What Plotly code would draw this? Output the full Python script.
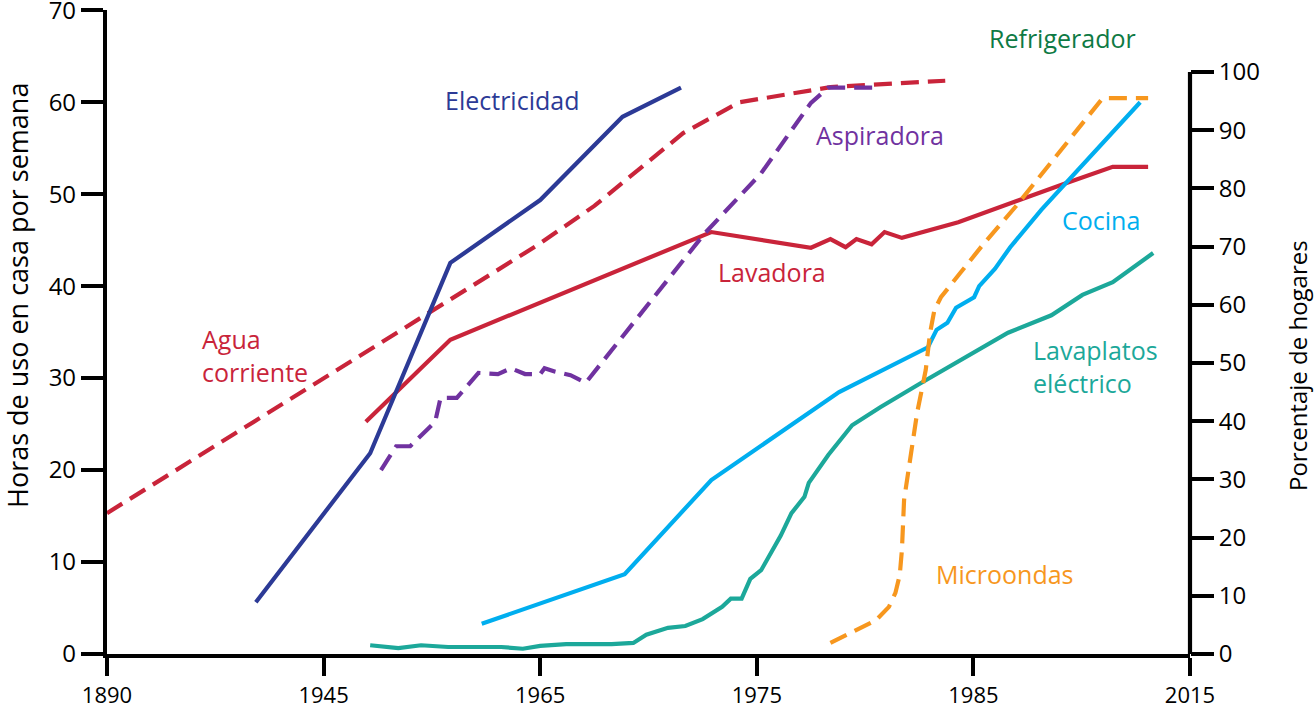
import numpy as np
import plotly.graph_objects as go

# ---------------- data ----------------
tick_years = [1890, 1945, 1965, 1975, 1985, 2015]
left_ticks = [0, 10, 20, 30, 40, 50, 60, 70]
right_ticks = [0, 10, 20, 30, 40, 50, 60, 70, 80, 90, 100]

elec_year = [1927.8, 1949.3, 1956.7, 1965.0, 1968.8, 1971.5]
elec_pct = [8.9, 34.5, 67.2, 78.0, 92.3, 97.3]

agua_year = [1890.0, 1964.8, 1967.5, 1971.6, 1974.2, 1978.4, 1983.7]
agua_pct = [24.2, 70.3, 77.0, 89.5, 94.8, 97.4, 98.5]

lavadora_year = [1948.9, 1956.7, 1972.9, 1977.5, 1978.4, 1979.1, 1979.6, 1980.3,
                 1980.9, 1981.7, 1984.3, 1991.2, 1997.8, 2004.3, 2009.2]
lavadora_pct = [39.9, 54.0, 72.5, 69.8, 71.3, 69.9, 71.3, 70.4,
                72.5, 71.5, 74.2, 78.0, 80.9, 83.7, 83.7]

aspir_year = [1950.3, 1951.7, 1953.0, 1955.3, 1955.8, 1957.3, 1959.3, 1961.1, 1962.3,
              1963.6, 1965.0, 1965.2, 1965.7, 1966.4, 1967.1, 1969.5, 1972.6, 1975.2,
              1977.5, 1978.3, 1980.7]
aspir_pct = [31.6, 35.7, 35.7, 39.9, 44.0, 44.0, 48.3, 48.1, 49.1,
             48.1, 48.1, 49.1, 48.5, 47.9, 46.6, 57.7, 72.3, 82.6,
             94.7, 97.3, 97.3]

cocina_year = [1959.6, 1968.9, 1972.9, 1978.8, 1982.9, 1983.3, 1983.8, 1984.2,
               1985.1, 1985.8, 1988.0, 1990.1, 1994.4, 2008.1]
cocina_pct = [5.2, 13.7, 29.9, 45.0, 52.7, 55.7, 56.9, 59.5,
              61.3, 63.2, 66.2, 69.9, 76.3, 94.8]

lavap_year = [1949.3, 1951.9, 1954.0, 1956.5, 1961.4, 1963.4, 1965.0, 1966.2, 1968.3,
              1969.3, 1969.9, 1970.9, 1971.7, 1972.5, 1973.4, 1973.8, 1974.3, 1974.7,
              1975.2, 1976.1, 1976.6, 1977.2, 1977.4, 1978.3, 1979.4, 1980.7, 1982.6,
              1984.6, 1989.8, 1995.8, 2000.1, 2004.3, 2009.9]
lavap_pct = [1.5, 1.0, 1.5, 1.2, 1.2, 0.9, 1.4, 1.7, 1.7,
             1.9, 3.3, 4.5, 4.8, 6.0, 8.1, 9.5, 9.5, 12.9,
             14.4, 20.3, 24.2, 27.0, 29.4, 34.2, 39.3, 42.4, 46.6,
             51.0, 55.2, 58.2, 61.7, 63.9, 68.9]

micro_year = [1978.4, 1980.5, 1981.1, 1981.4, 1981.6, 1981.7, 1981.8, 1982.1, 1982.4,
              1982.8, 1983.0, 1983.2, 1983.5, 1984.4, 1986.5, 1990.8, 1996.4, 2002.9, 2009.2]
micro_pct = [1.9, 5.8, 8.1, 10.5, 13.6, 17.9, 26.5, 34.2, 41.4,
             48.8, 55.2, 59.1, 61.3, 65.5, 70.6, 76.8, 85.4, 95.5, 95.5]

# ---------------- styling ----------------
W, H = 1315, 709
ML, MR, MT, MB = 107, 125, 10, 55
PW, PH = W - ML - MR, H - MT - MB
FONT = "Open Sans"

BLUE = "#2C3A96"
RED = "#C9243A"
PURPLE = "#7032A0"
ORANGE = "#F7971E"
CYAN = "#00AEEF"
TEAL = "#1CA89A"
GREEN = "#0E7A44"

DASH = "18px,9px"
LW = 4.2


def xpos(years):
    # the horizontal axis places its labelled years at equal spacing
    return np.interp(years, tick_years, np.arange(len(tick_years)))


def px(xp, yp):
    return (xp - ML) / PW, (H - MB - yp) / PH


fig = go.Figure()

series = [
    (agua_year, agua_pct, RED, DASH),
    (lavadora_year, lavadora_pct, RED, "solid"),
    (elec_year, elec_pct, BLUE, "solid"),
    (aspir_year, aspir_pct, PURPLE, DASH),
    (lavap_year, lavap_pct, TEAL, "solid"),
    (cocina_year, cocina_pct, CYAN, "solid"),
    (micro_year, micro_pct, ORANGE, DASH),
]
for yrs, vals, col, dash in series:
    fig.add_trace(go.Scatter(x=xpos(yrs), y=vals, mode="lines", yaxis="y2",
                             line=dict(color=col, width=LW, dash=dash),
                             hoverinfo="skip", showlegend=False))

# hidden trace so the left axis is active
fig.add_trace(go.Scatter(x=[0], y=[0], mode="markers", marker=dict(opacity=0),
                         showlegend=False, hoverinfo="skip"))

y2_top = 100 * PH / (H - MB - 72)

fig.update_layout(
    width=W, height=H, autosize=False,
    margin=dict(l=ML, r=MR, t=MT, b=MB, pad=0, autoexpand=False),
    paper_bgcolor="white", plot_bgcolor="white",
    font=dict(family=FONT, color="black", size=24),
    showlegend=False,
    xaxis=dict(range=[0, len(tick_years) - 1], tickmode="array",
               tickvals=list(range(len(tick_years))),
               ticktext=[str(t) for t in tick_years], automargin=False,
               ticklabeloverflow="allow",
               showgrid=False, zeroline=False, showline=True, linecolor="black",
               linewidth=LW, ticks="outside", ticklen=18, tickwidth=LW,
               tickcolor="black", tickfont=dict(size=22)),
    yaxis=dict(range=[0, 70.02], tickmode="array", tickvals=left_ticks,
               automargin=False, ticklabeloverflow="allow",
               showgrid=False, zeroline=False, showline=True, linecolor="black",
               linewidth=LW, ticks="outside", ticklen=22, tickwidth=LW,
               tickcolor="black", tickfont=dict(size=24)),
    yaxis2=dict(range=[0, y2_top], overlaying="y", side="right", anchor="x",
                tickmode="array", tickvals=right_ticks, automargin=False,
                ticklabeloverflow="allow",
                showgrid=False, zeroline=False, showline=False,
                ticks="outside", ticklen=23, tickwidth=LW, tickcolor="black",
                tickfont=dict(size=24)),
)

# right axis line only spans 0-100 %
fig.add_shape(type="line", xref="paper", yref="y2", x0=1, x1=1, y0=0, y1=100,
              line=dict(color="black", width=LW))

ann = []


def label(text, xp, yp, color, size=25, xanchor="center", align="center", angle=0):
    x, y = px(xp, yp)
    ann.append(dict(text=text, x=x, y=y, xref="paper", yref="paper", showarrow=False,
                    xanchor=xanchor, yanchor="middle", align=align, textangle=angle,
                    font=dict(family=FONT, size=size, color=color)))


label("Electricidad", 512, 100, BLUE)
label("Aspiradora", 880, 135, PURPLE)
label("Lavadora", 772, 272, RED)
label("Agua<br>corriente", 200, 355, RED, xanchor="left", align="left")
label("Refrigerador", 1062, 38, GREEN)
label("Cocina", 1101, 220, CYAN)
label("Lavaplatos<br>eléctrico", 1031, 366, TEAL, xanchor="left", align="left")
label("Microondas", 1005, 574, ORANGE)
label("Horas de uso en casa por semana", 17, 296, "black", size=27, angle=-90)
label("Porcentaje de hogares", 1297, 366, "black", size=24, angle=-90)

fig.update_layout(annotations=ann)

fig.write_html("out.html", config={"displayModeBar": False},
               post_script="document.body.style.margin='0';")
